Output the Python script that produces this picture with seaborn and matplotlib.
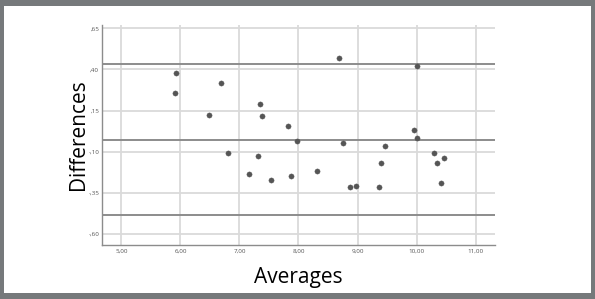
import matplotlib.pyplot as plt
import seaborn as sns
import pandas as pd

# Bland-Altman style data
averages = [5.93, 5.91, 6.49, 6.68, 6.81, 7.16, 7.34, 7.38, 7.32, 7.54,
            7.83, 7.88, 7.98, 8.32, 8.69, 8.75, 8.87, 8.97, 9.36, 9.40,
            9.47, 9.95, 10.00, 10.00, 10.30, 10.34, 10.46, 10.41]
differences = [0.378, 0.256, 0.126, 0.315, -0.106, -0.234, 0.191, 0.118, -0.124, -0.27,
               0.059, -0.246, -0.033, -0.216, 0.471, -0.045, -0.316, -0.307, -0.316, -0.167,
               -0.065, 0.030, 0.418, -0.015, -0.106, -0.167, -0.137, -0.289]
ref_lines = [0.435, -0.027, -0.486]  # upper limit, mean, lower limit

x_ticks = [5, 6, 7, 8, 9, 10, 11]
x_labels = ['5,00', '6,00', '7,00', '8,00', '9,00', '10,00', '11,00']
y_ticks = [0.65, 0.40, 0.15, -0.10, -0.35, -0.60]
y_labels = [',65', ',40', ',15', '-,10', '-,35', '-,60']

df = pd.DataFrame({'avg': averages, 'diff': differences})

sns.set_style('white')
plt.rcParams['font.family'] = ['Open Sans', 'DejaVu Sans']

fig = plt.figure(figsize=(5.95, 2.99), dpi=100, facecolor='#76797b')
# white inner panel
fig.patches.append(plt.Rectangle((4 / 595, 6 / 299), 587 / 595, 287 / 299,
                                 transform=fig.transFigure, facecolor='white',
                                 edgecolor='none', zorder=-10))
ax = fig.add_axes([102 / 595, 1 - 245 / 299, 393 / 595, 220 / 299])
ax.set_facecolor('white')

ax.set_xticks(x_ticks)
ax.set_yticks(y_ticks)
ax.grid(True, color='#dadada', linewidth=1.3)
ax.set_axisbelow(True)

for v in ref_lines:
    ax.axhline(v, color='#8c8c8c', linewidth=1.4, zorder=2)

sns.scatterplot(data=df, x='avg', y='diff', ax=ax, color='#555555', s=14,
                edgecolor='#555555', linewidth=0.3, zorder=3)

ax.set_xlim(4.67, 11.33)
ax.set_ylim(-0.667, 0.67)
ax.set_xticklabels(x_labels, fontsize=4.5, color='#555555')
ax.set_yticklabels(y_labels, fontsize=4.5, color='#555555')
ax.tick_params(axis='x', length=0, pad=3)
ax.tick_params(axis='y', length=0, pad=2)

for s in ['top', 'right']:
    ax.spines[s].set_visible(False)
for s in ['left', 'bottom']:
    ax.spines[s].set_color('#8c8c8c')
    ax.spines[s].set_linewidth(1.0)

ax.set_xlabel('Averages', fontsize=15, color='black')
ax.set_ylabel('Differences', fontsize=15, color='black')
ax.xaxis.set_label_coords(0.5, -0.1)
ax.yaxis.set_label_coords(-0.033, 0.5)

fig.savefig('out.png', dpi=100, facecolor=fig.get_facecolor())
